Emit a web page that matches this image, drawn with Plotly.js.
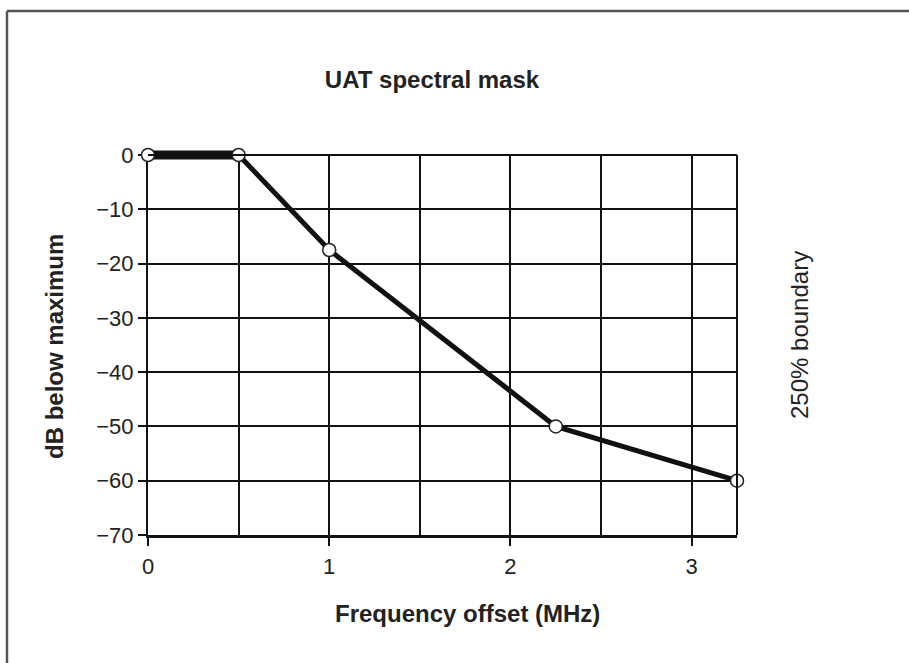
<!DOCTYPE html>
<html>
<head>
<meta charset="utf-8">
<script src="https://cdn.plot.ly/plotly-3.0.1.min.js"></script>
<style>
  html, body { margin: 0; padding: 0; background: #fff; }
  #chart { width: 909px; height: 663px; }
</style>
</head>
<body>
<div id="chart"></div>
<script>
// Data
const freqMHz = [0, 0.5, 1, 2.25, 3.25];
const dbBelowMax = [0, 0, -17.5, -50, -60];
const xTickVals = [0, 1, 2, 3];
const xTickText = ['0', '1', '2', '3'];
const yTickVals = [0, -10, -20, -30, -40, -50, -60, -70];
const yTickText = ['0', '\u221210', '\u221220', '\u221230', '\u221240', '\u221250', '\u221260', '\u221270'];

const W = 909, H = 663;
const L = 148, R = 737, T = 155, B = 535;   // grid area in pixels
const T2 = 143;                              // overlay area top (room for thick line at 0 dB)
const pw = R - L, ph = B - T2;
const px = v => (v - L) / pw;      // pixel -> paper x
const py = v => (B - v) / ph;      // pixel -> paper y
const mainTop = (B - T) / (B - T2);
const yMin = -70, yMax = 0;
const y2Max = yMin + (yMax - yMin) / mainTop;

const font = 'Liberation Sans, Arial, sans-serif';
const ink = '#111';
const txt = '#222';

const traces = [
  // invisible trace so the gridded main subplot is drawn
  {
    x: freqMHz, y: dbBelowMax, xaxis: 'x', yaxis: 'y',
    mode: 'lines', line: {color: 'rgba(0,0,0,0)', width: 0}, hoverinfo: 'skip', showlegend: false
  },
  {
    x: freqMHz.slice(0, 2), y: dbBelowMax.slice(0, 2), xaxis: 'x2', yaxis: 'y2',
    mode: 'lines', line: {color: ink, width: 9}, hoverinfo: 'skip', showlegend: false
  },
  {
    x: freqMHz.slice(1), y: dbBelowMax.slice(1), xaxis: 'x2', yaxis: 'y2',
    mode: 'lines', line: {color: ink, width: 5}, showlegend: false
  },
  {
    x: freqMHz, y: dbBelowMax, xaxis: 'x2', yaxis: 'y2',
    mode: 'markers', marker: {size: 13, color: '#fff', line: {color: '#222', width: 1.5}},
    showlegend: false, cliponaxis: false
  }
];

const layout = {
  width: W, height: H,
  margin: {l: L, r: W - R, t: T2, b: H - B, pad: 0},
  paper_bgcolor: '#fff', plot_bgcolor: 'rgba(0,0,0,0)',
  showlegend: false,
  title: {
    text: '<b>UAT spectral mask</b>',
    font: {family: font, size: 24, color: txt},
    x: 432 / W, xanchor: 'center', xref: 'container',
    y: 1 - 80 / H, yanchor: 'middle', yref: 'container'
  },
  xaxis: {
    domain: [0, 1], anchor: 'y',
    range: [0, 3.25], fixedrange: true,
    tickvals: xTickVals, ticktext: xTickText,
    ticks: 'outside', ticklen: 8, tickwidth: 2, tickcolor: ink,
    tickfont: {family: font, size: 22, color: txt},
    ticklabelstandoff: 2,
    showgrid: true, gridcolor: ink, gridwidth: 2,
    minor: {dtick: 0.5, tick0: 0, showgrid: true, gridcolor: ink, gridwidth: 2, ticks: ''},
    showline: true, linecolor: ink, linewidth: 3,
    zeroline: true, zerolinecolor: ink, zerolinewidth: 2
  },
  yaxis: {
    domain: [0, mainTop], anchor: 'x',
    range: [yMin, yMax], fixedrange: true,
    tickvals: yTickVals, ticktext: yTickText,
    ticks: 'outside', ticklen: 8, tickwidth: 2, tickcolor: ink,
    tickfont: {family: font, size: 22, color: txt},
    showgrid: true, gridcolor: ink, gridwidth: 2,
    showline: true, linecolor: ink, linewidth: 2,
    zeroline: true, zerolinecolor: ink, zerolinewidth: 2
  },
  xaxis2: {
    domain: [0, 1], anchor: 'y2', range: [0, 3.25], fixedrange: true,
    visible: false, showgrid: false, zeroline: false
  },
  yaxis2: {
    domain: [0, 1], anchor: 'x2', range: [yMin, y2Max], fixedrange: true,
    visible: false, showgrid: false, zeroline: false
  },
  shapes: [
    // right edge of grid
    {type: 'line', xref: 'paper', yref: 'paper', x0: 1, x1: 1, y0: 0, y1: mainTop,
     line: {color: ink, width: 2}},
    // top edge of grid
    {type: 'line', xref: 'paper', yref: 'paper', x0: 0, x1: 1, y0: mainTop, y1: mainTop,
     line: {color: ink, width: 2}},
    // outer frame: top and left
    {type: 'line', xref: 'paper', yref: 'paper', x0: px(7), x1: px(909), y0: py(11), y1: py(11),
     line: {color: '#555', width: 2.5}},
    {type: 'line', xref: 'paper', yref: 'paper', x0: px(7), x1: px(7), y0: py(11), y1: py(663),
     line: {color: '#555', width: 2.5}}
  ],
  annotations: [
    {text: '<b>Frequency offset (MHz)</b>', xref: 'paper', yref: 'paper',
     x: px(467), y: py(613), xanchor: 'center', yanchor: 'middle', showarrow: false,
     font: {family: font, size: 24, color: txt}},
    {text: '<b>dB below maximum</b>', xref: 'paper', yref: 'paper', textangle: -90,
     x: px(54), y: py(347), xanchor: 'center', yanchor: 'middle', showarrow: false,
     font: {family: font, size: 24, color: txt}},
    {text: '250% boundary', xref: 'paper', yref: 'paper', textangle: -90,
     x: px(799), y: py(335), xanchor: 'center', yanchor: 'middle', showarrow: false,
     font: {family: font, size: 24, color: txt}}
  ]
};

Plotly.newPlot('chart', traces, layout, {staticPlot: true, displayModeBar: false});
</script>
</body>
</html>
